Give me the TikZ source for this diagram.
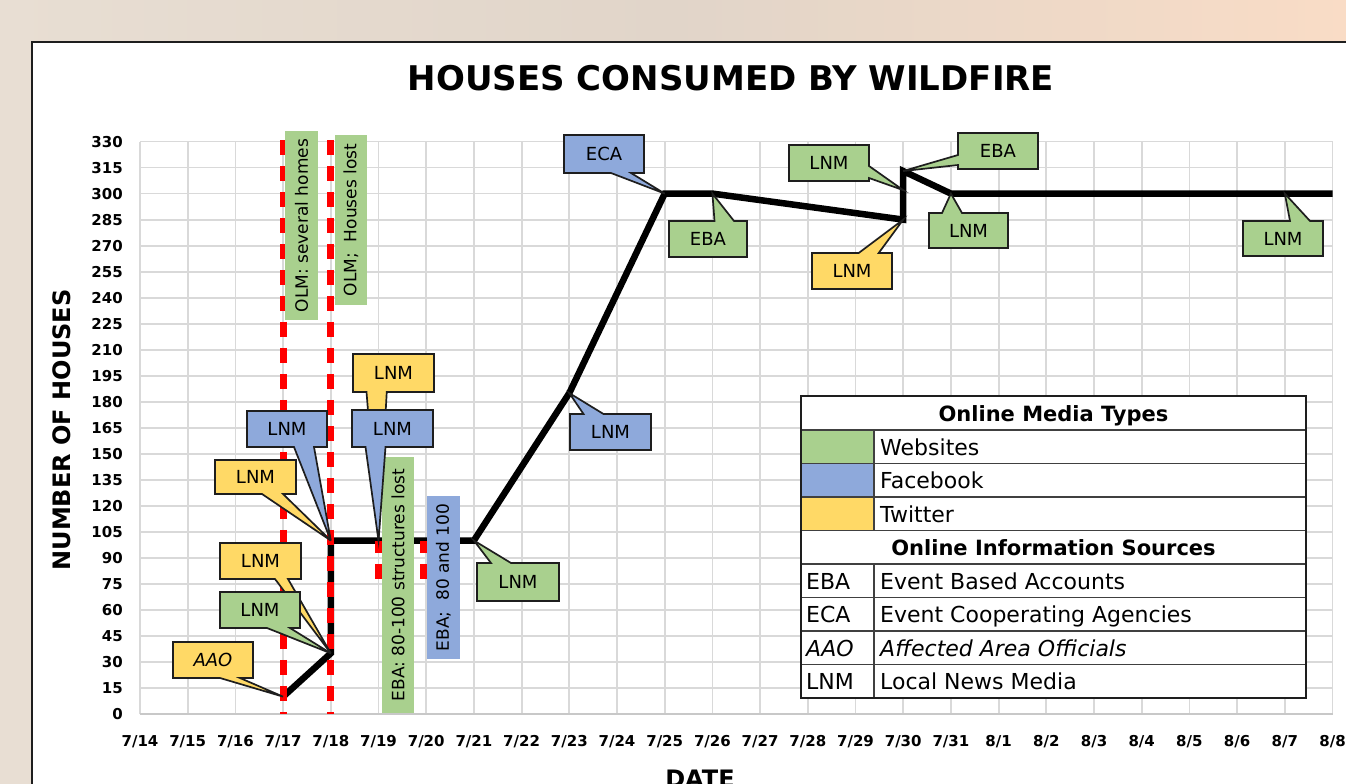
\documentclass[tikz,border=0pt]{standalone}
\usepackage{fontspec}
\setmainfont{DejaVu Sans}
\usetikzlibrary{calc}
\definecolor{gW}{HTML}{A9D08E}
\definecolor{bF}{HTML}{8EA9DB}
\definecolor{yT}{HTML}{FFD966}
\definecolor{gridc}{HTML}{D9D9D9}
\definecolor{axc}{HTML}{C8C8C8}
\definecolor{bgL}{HTML}{E8DED3}
\definecolor{bgM}{HTML}{E1D5C9}
\definecolor{bgR}{HTML}{F9DCC6}
\definecolor{redd}{HTML}{FF0000}
\definecolor{edge}{HTML}{1E1E1E}
\definecolor{legl}{HTML}{404040}
\begin{document}
\begin{tikzpicture}[x=1pt,y=-1pt,
  callout/.style={draw=edge, line width=1.7pt, line join=miter},
  ctext/.style={font=\fontsize{18}{20}\selectfont, inner sep=0pt},
  ctexti/.style={font=\itshape\fontsize{18}{20}\selectfont, inner sep=0pt},
  vbox/.style={font=\fontsize{17}{19}\selectfont, rotate=90, inner sep=0pt},
  tick/.style={font=\bfseries\fontsize{15}{17}\selectfont, inner sep=0pt},
  gridline/.style={draw=gridc, line width=1.8pt},
  axisline/.style={draw=axc, line width=2pt},
  reddash/.style={draw=redd, line width=7pt, line cap=butt, dash pattern=on 15pt off 11pt},
  dataline/.style={line width=6.5pt, line join=miter},
  legtext/.style={font=\fontsize{22}{24}\selectfont, inner sep=0pt, anchor=base west},
  legtexti/.style={font=\itshape\fontsize{22}{24}\selectfont, inner sep=0pt, anchor=base west},
  leghead/.style={font=\bfseries\fontsize{21}{23}\selectfont, inner sep=0pt, anchor=base},
  legrule/.style={draw=legl, line width=1.5pt},
]
\clip (0,0) rectangle (1346,784);
\shade[left color=bgL, right color=bgR, middle color=bgM] (0,0) rectangle (1346,784);
\draw[line width=2pt, draw=edge, fill=white] (32,42) rectangle (1380,820);

\node[font=\bfseries\fontsize{34}{36}\selectfont, inner sep=0pt] (title) at (731,78) {HOUSES CONSUMED BY WILDFIRE};
\node[font=\bfseries\fontsize{24}{26}\selectfont, rotate=90, inner sep=0pt] (ylab) at (62,430) {NUMBER OF HOUSES};
\node[font=\bfseries\fontsize{24}{26}\selectfont, anchor=base, inner sep=0pt] (xlab) at (700,787) {DATE};

\begin{scope}[shift={(140,714)}, x=47.7pt, y=1.7347pt]
  \foreach \i in {0,...,25} \draw[gridline] (\i,0) -- (\i,330);
  \foreach \j in {15,30,...,330} \draw[gridline] (0,\j) -- (25,\j);
  \draw[axisline] (0,0) -- (25,0);
  \foreach \j in {0,15,...,330} \node[tick, anchor=east, xshift=-17pt] (yt\j) at (0,\j) {\j};
  \coordinate (p1) at (3,10);
  \coordinate (p2) at (4,35);
  \coordinate (p3) at (4,100);
  \coordinate (p19) at (5,100);
  \coordinate (p4) at (7,100);
  \coordinate (p5) at (9,185);
  \coordinate (p6) at (11,300);
  \coordinate (p7) at (12,300);
  \coordinate (p8) at (16,285);
  \coordinate (p8b) at (16,302);
  \coordinate (p9) at (16,313);
  \coordinate (p10) at (17,300);
  \coordinate (p12) at (24,300);
  \coordinate (p11) at (25,300);
  \coordinate (r1t) at (3,331);  \coordinate (r1b) at (3,0);
  \coordinate (r2t) at (4,331);  \coordinate (r2b) at (4,0);
  \coordinate (r3t) at (5,100);  \coordinate (r3b) at (5,78);
  \coordinate (r4t) at (5.94,100); \coordinate (r4b) at (5.94,78);
\end{scope}

\foreach \m/\dd [count=\i from 0] in {7/14,7/15,7/16,7/17,7/18,7/19,7/20,7/21,7/22,7/23,7/24,7/25,7/26,7/27,7/28,7/29,7/30,7/31,8/1,8/2,8/3,8/4,8/5,8/6,8/7,8/8}
  \node[tick] (xt\i) at ({140+47.7*\i},742) {\m/\dd};

% data line
\draw[dataline] (p1) -- (p2) -- (p3) -- (p4) -- (p5) -- (p6) -- (p7) -- (p8) -- (p9) -- (p10) -- (p11);

% red dashed markers
\draw[reddash] (r1t) -- (r1b);
\draw[reddash] (r2t) -- (r2b);
\draw[reddash] (r3b) -- (r3t);
\draw[reddash] (r4b) -- (r4t);

% vertical annotation boxes
\node[vbox, fill=gW, minimum width=189pt, minimum height=33pt] (olm1) at (301.5,225.5) {OLM: several homes};
\node[vbox, fill=gW, minimum width=170pt, minimum height=32pt] (olm2) at (351,220) {OLM;\ \ Houses lost};
\node[vbox, fill=gW, minimum width=256pt, minimum height=32pt] (eba1) at (398,585) {EBA: 80-100 structures lost};
\node[vbox, fill=bF, minimum width=163pt, minimum height=33pt] (eba2) at (443.5,577.5) {EBA;\ \ 80 and 100};

% callouts
\filldraw[callout, fill=yT] (173,642) -- (253,642) -- (253,678) -- (240,678) -- (p1) -- (220,678) -- (173,678) -- cycle;
\node[ctexti] (aao) at (213,660) {AAO};

\filldraw[callout, fill=yT] (215,460) -- (296,460) -- (296,494) -- (283,494) -- (p3) -- (262,494) -- (215,494) -- cycle;
\node[ctext] (lnmy1) at (255.5,477) {LNM};

\filldraw[callout, fill=bF] (247,411) -- (327,411) -- (327,447) -- (314,447) -- (p3) -- (294,447) -- (247,447) -- cycle;
\node[ctext] (lnmb1) at (287,429) {LNM};

\filldraw[callout, fill=yT] (220,543) -- (301,543) -- (301,579) -- (288,579) -- (p2) -- (275,579) -- (220,579) -- cycle;
\node[ctext] (lnmy2) at (260.5,561) {LNM};

\filldraw[callout, fill=gW] (220,592) -- (300,592) -- (300,628) -- (290,628) -- (p2) -- (267,628) -- (220,628) -- cycle;
\node[ctext] (lnmg1) at (260,610) {LNM};

\filldraw[callout, fill=yT] (353,354) -- (434,354) -- (434,392) -- (386.75,392) -- (p19) -- (366.5,392) -- (353,392) -- cycle;
\node[ctext] (lnmy3) at (393.5,373) {LNM};

\filldraw[callout, fill=bF] (352,410) -- (433,410) -- (433,447) -- (385.5,447) -- (p19) -- (365.5,447) -- (352,447) -- cycle;
\node[ctext] (lnmb2) at (392.5,428.5) {LNM};

\filldraw[callout, fill=gW] (477,563) -- (491,563) -- (p4) -- (511,563) -- (559,563) -- (559,601) -- (477,601) -- cycle;
\node[ctext] (lnmg2) at (518,582) {LNM};

\filldraw[callout, fill=bF] (570,414) -- (583.5,414) -- (p5) -- (603.5,414) -- (651,414) -- (651,450) -- (570,450) -- cycle;
\node[ctext] (lnmb3) at (610.5,432) {LNM};

\filldraw[callout, fill=bF] (564,135) -- (644,135) -- (644,173) -- (631,173) -- (p6) -- (611,173) -- (564,173) -- cycle;
\node[ctext] (eca) at (604,154) {ECA};

\filldraw[callout, fill=gW] (669,221) -- (714.5,221) -- (p7) -- (734,221) -- (747,221) -- (747,257) -- (669,257) -- cycle;
\node[ctext] (ebag1) at (708,239) {EBA};

\filldraw[callout, fill=yT] (812,253) -- (858.7,253) -- (p8) -- (878.7,253) -- (892,253) -- (892,289) -- (812,289) -- cycle;
\node[ctext] (lnmy4) at (852,271) {LNM};

\filldraw[callout, fill=gW] (789,145) -- (869,145) -- (869,166) -- (p8b) -- (869,178) -- (869,181) -- (789,181) -- cycle;
\node[ctext] (lnmg3) at (829,163) {LNM};

\filldraw[callout, fill=gW] (958,133) -- (1038,133) -- (1038,169) -- (958,169) -- (958,165) -- (p9) -- (958,155) -- cycle;
\node[ctext] (ebag2) at (998,151) {EBA};

\filldraw[callout, fill=gW] (929,213) -- (942,213) -- (p10) -- (962,213) -- (1008,213) -- (1008,248) -- (929,248) -- cycle;
\node[ctext] (lnmg4) at (968.5,230.5) {LNM};

\filldraw[callout, fill=gW] (1243,221) -- (1290,221) -- (p12) -- (1310,221) -- (1323,221) -- (1323,256) -- (1243,256) -- cycle;
\node[ctext] (lnmg5) at (1283,238.5) {LNM};

% legend table
\fill[white] (801,396) rectangle (1306,698);
\fill[gW] (801,430) rectangle (874,463.5);
\fill[bF] (801,463.5) rectangle (874,497);
\fill[yT] (801,497) rectangle (874,530.5);
\foreach \yy in {430,463.5,497,530.5,564,597.5,631,664.5} \draw[legrule] (801,\yy) -- (1306,\yy);
\draw[legrule] (874,430) -- (874,530.5);
\draw[legrule] (874,564) -- (874,698);
\draw[draw=edge, line width=2pt] (801,396) rectangle (1306,698);

\node[leghead] (h1) at (1053.5,421) {Online Media Types};
\node[legtext] (w) at (880,455) {Websites};
\node[legtext] (f) at (880,488.5) {Facebook};
\node[legtext] (t) at (880,522) {Twitter};
\node[leghead] (h2) at (1053.5,555) {Online Information Sources};
\node[legtext] (a1) at (806,589) {EBA};
\node[legtext] (d1) at (880,589) {Event Based Accounts};
\node[legtext] (a2) at (806,622.5) {ECA};
\node[legtext] (d2) at (880,622.5) {Event Cooperating Agencies};
\node[legtexti] (a3) at (806,656) {AAO};
\node[legtexti] (d3) at (880,656) {Affected Area Officials};
\node[legtext] (a4) at (806,689.5) {LNM};
\node[legtext] (d4) at (880,689.5) {Local News Media};
\end{tikzpicture}
\end{document}
